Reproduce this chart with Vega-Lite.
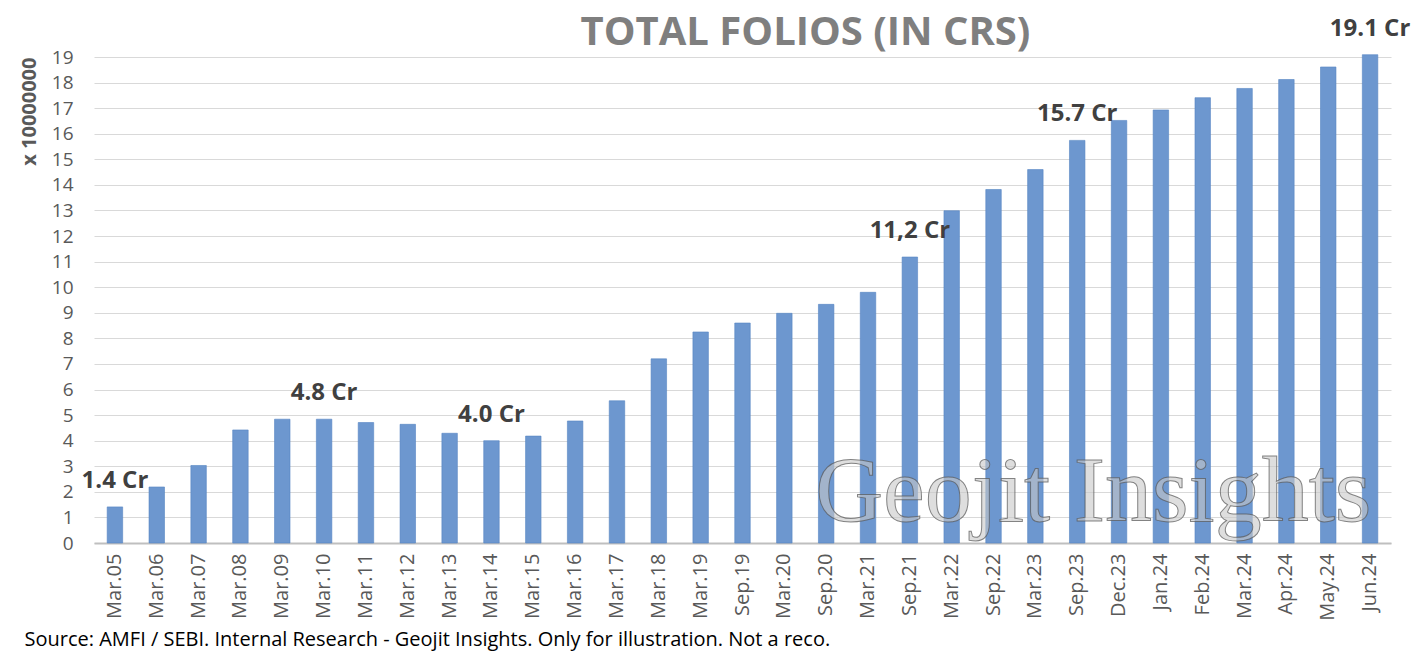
{
  "$schema": "https://vega.github.io/schema/vega-lite/v6.json",
  "width": 1297,
  "height": 486,
  "autosize": {"type": "none"},
  "padding": {"left": 94, "top": 57, "right": 33, "bottom": 110},
  "background": "white",
  "title": {
    "text": "TOTAL FOLIOS (IN CRS)",
    "font": "Open Sans",
    "fontSize": 40,
    "fontWeight": "bold",
    "color": "#7f7f7f",
    "anchor": "middle",
    "dx": 63,
    "dy": 38,
    "offset": 2
  },
  "datasets": {
    "folios": [
      {"period": "Mar.05", "folios": 1.41, "label": "1.4 Cr"},
      {"period": "Mar.06", "folios": 2.19},
      {"period": "Mar.07", "folios": 3.03},
      {"period": "Mar.08", "folios": 4.42},
      {"period": "Mar.09", "folios": 4.84},
      {"period": "Mar.10", "folios": 4.84, "label": "4.8 Cr"},
      {"period": "Mar.11", "folios": 4.71},
      {"period": "Mar.12", "folios": 4.64},
      {"period": "Mar.13", "folios": 4.29},
      {"period": "Mar.14", "folios": 4.0, "label": "4.0 Cr"},
      {"period": "Mar.15", "folios": 4.18},
      {"period": "Mar.16", "folios": 4.77},
      {"period": "Mar.17", "folios": 5.56},
      {"period": "Mar.18", "folios": 7.2},
      {"period": "Mar.19", "folios": 8.25},
      {"period": "Sep.19", "folios": 8.6},
      {"period": "Mar.20", "folios": 8.98},
      {"period": "Sep.20", "folios": 9.33},
      {"period": "Mar.21", "folios": 9.8},
      {"period": "Sep.21", "folios": 11.18, "label": "11,2 Cr"},
      {"period": "Mar.22", "folios": 12.99},
      {"period": "Sep.22", "folios": 13.82},
      {"period": "Mar.23", "folios": 14.6},
      {"period": "Sep.23", "folios": 15.74, "label": "15.7 Cr"},
      {"period": "Dec.23", "folios": 16.52},
      {"period": "Jan.24", "folios": 16.93},
      {"period": "Feb.24", "folios": 17.41},
      {"period": "Mar.24", "folios": 17.77},
      {"period": "Apr.24", "folios": 18.12},
      {"period": "May.24", "folios": 18.61},
      {"period": "Jun.24", "folios": 19.09, "label": "19.1 Cr"}
    ],
    "watermark": [
      {"period": "Sep.20", "folios": 0.85, "wm": "Geojit Insights"}
    ]
  },
  "encoding": {
    "x": {
      "field": "period",
      "type": "nominal",
      "sort": null,
      "scale": {"paddingInner": 0.63, "paddingOuter": 0.315},
      "axis": {
        "title": "Source: AMFI / SEBI. Internal Research - Geojit Insights. Only for illustration. Not a reco.",
        "titleFont": "Open Sans",
        "titleFontSize": 20,
        "titleFontWeight": "normal",
        "titleColor": "#000000",
        "titleAnchor": "start",
        "titleAlign": "left",
        "titleBaseline": "alphabetic",
        "titleX": -70,
        "titleY": 102,
        "labelAngle": -90,
        "labelAlign": "right",
        "labelBaseline": "middle",
        "labelFont": "Open Sans",
        "labelFontSize": 20,
        "labelColor": "#595959",
        "labelPadding": 10,
        "labelOverlap": false,
        "ticks": false,
        "domainColor": "#bfbfbf",
        "domainWidth": 2
      }
    },
    "y": {
      "field": "folios",
      "type": "quantitative",
      "scale": {"domain": [0, 19], "nice": false},
      "axis": {
        "title": "x 10000000",
        "titleFont": "Open Sans",
        "titleFontSize": 20,
        "titleFontWeight": "bold",
        "titleColor": "#595959",
        "titleAnchor": "end",
        "titlePadding": 12,
        "values": [0,1,2,3,4,5,6,7,8,9,10,11,12,13,14,15,16,17,18,19],
        "labelFont": "Open Sans",
        "labelFontSize": 19,
        "labelColor": "#595959",
        "labelPadding": 21,
        "labelOverlap": false,
        "labelFlush": false,
        "ticks": false,
        "domain": false,
        "grid": true,
        "gridColor": "#d9d9d9",
        "gridWidth": 1
      }
    }
  },
  "layer": [
    {
      "data": {"name": "folios"},
      "mark": {"type": "bar", "color": "#6d97cf", "stroke": "#5585c3", "strokeWidth": 0.6}
    },
    {
      "data": {"name": "folios"},
      "transform": [{"filter": "isValid(datum.label)"}],
      "mark": {
        "type": "text",
        "font": "Open Sans",
        "fontSize": 24,
        "fontWeight": "bold",
        "color": "#404040",
        "baseline": "alphabetic",
        "dy": -19
      },
      "encoding": {
        "text": {"field": "label"}
      }
    },
    {
      "data": {"name": "watermark"},
      "mark": {
        "type": "text",
        "font": "Liberation Serif",
        "fontSize": 94,
        "align": "left",
        "baseline": "alphabetic",
        "dx": -11,
        "fill": "#c8c8c8",
        "fillOpacity": 0.6,
        "stroke": "#555555",
        "strokeWidth": 1,
        "strokeOpacity": 0.7
      },
      "encoding": {
        "text": {"field": "wm"}
      }
    }
  ],
  "config": {
    "view": {"stroke": null}
  }
}
